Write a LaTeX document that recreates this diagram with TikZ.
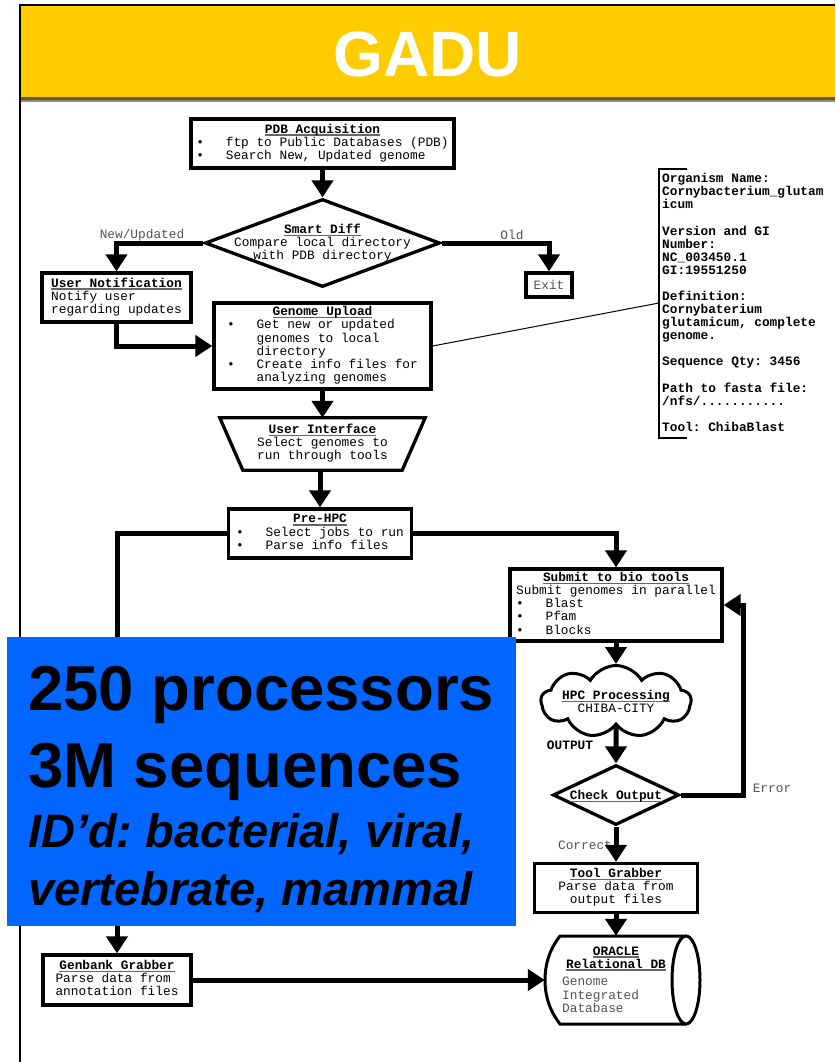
\documentclass[tikz,border=0pt]{standalone}
\usepackage{fontspec}
\newfontfamily\cour{Liberation Mono}
\newfontfamily\ari{Liberation Sans}
\usetikzlibrary{arrows.meta,shapes.geometric,shapes.symbols}
\definecolor{hdyellow}{HTML}{FFCC00}
\definecolor{slideblue}{HTML}{0066FF}
\definecolor{bodytxt}{gray}{0.32}
\definecolor{bandcol}{HTML}{6E5A10}
\newcommand\dtext{\cour\fontsize{12.8}{13}\selectfont}
\newcommand\ttl[1]{\leavevmode\setbox0\hbox{\color{black}\bfseries #1}\rlap{\color{black!60}\rule[-2.6pt]{\wd0}{1.3pt}}\box0}
\newcommand\bul{\makebox[2.3em][l]{\textbullet}}
\newcommand\ind{\hspace*{2.3em}}
\begin{document}
\frenchspacing
\begin{tikzpicture}[x=1pt,y=-1pt,
  box/.style={draw, line width=3.3pt, fill=white, inner sep=0pt, text=bodytxt, font=\dtext},
  conn/.style={line width=5pt, -{Triangle[width=21pt,length=17pt]}},
  lbl/.style={inner sep=0pt, text=bodytxt, font=\dtext},
  big/.style={anchor=base west, inner sep=0pt, text=black}]
\useasboundingbox (0,0) rectangle (835,1062);
% header
\fill[hdyellow] (20,5) rectangle (835,97);
\fill[bandcol] (20,97) rectangle (835,100.5);
\fill[black!45] (20,100.5) rectangle (835,102.5);
\draw[line width=2pt] (20,5) -- (835,5);
\draw[line width=2pt] (20,4) -- (20,1062);
\node[anchor=base, inner sep=0pt, text=white, font=\ari\bfseries\fontsize{64}{64}\selectfont] (title) at (428,77) {GADU};

% nodes
\node[box, minimum width=263pt, minimum height=49pt] (pdb) at (322.5,143.5)
  {\begin{tabular}{@{}l@{}}\multicolumn{1}{@{}c@{}}{\ttl{PDB Acquisition}}\\\bul ftp to Public Databases (PDB)\\\bul Search New, Updated genome\end{tabular}};
\node[draw, diamond, line width=3.3pt, fill=white, minimum width=235pt, minimum height=88pt, inner sep=0pt] (sd) at (322.5,243) {};
\node[lbl] (sdt) at (322.5,244)
  {\begin{tabular}{@{}c@{}}\ttl{Smart Diff}\\Compare local directory\\with PDB directory\end{tabular}};
\node[box, minimum width=46pt, minimum height=24pt] (exit) at (549,285) {Exit};
\node[box, minimum width=149pt, minimum height=49pt] (un) at (116.5,297.5)
  {\begin{tabular}{@{}l@{}}\ttl{User Notification}\\Notify user\\regarding updates\end{tabular}};
\node[box, minimum width=217pt, minimum height=86pt] (gu) at (322.5,346)
  {\begin{tabular}{@{}l@{}}\multicolumn{1}{@{}c@{}}{\ttl{Genome Upload}}\\\bul Get new or updated\\\ind genomes to local\\\ind directory\\\bul Create info files for\\\ind analyzing genomes\end{tabular}};
\node[lbl, minimum width=205pt, minimum height=52pt] (ui) at (322.5,444)
  {\begin{tabular}{@{}c@{}}\ttl{User Interface}\\Select genomes to\\run through tools\end{tabular}};
\draw[line width=3.3pt, line join=miter] (ui.north west) -- (ui.north east) -- ([xshift=-23pt]ui.south east) -- ([xshift=23pt]ui.south west) -- cycle;
\node[box, minimum width=183pt, minimum height=49pt] (pre) at (320,533.5)
  {\begin{tabular}{@{}l@{}}\multicolumn{1}{@{}c@{}}{\ttl{Pre-HPC}}\\\bul Select jobs to run\\\bul Parse info files\end{tabular}};
\node[box, minimum width=212pt, minimum height=72pt] (sub) at (616,605)
  {\begin{tabular}{@{}l@{}}\multicolumn{1}{@{}c@{}}{\ttl{Submit to bio tools}}\\Submit genomes in parallel\\\bul Blast\\\bul Pfam\\\bul Blocks\end{tabular}};
\node[draw, cloud, cloud puffs=9, cloud puff arc=120, aspect=2.1, line width=3pt, fill=white, minimum width=150pt, minimum height=72pt, inner sep=0pt] (cl) at (616,701.5) {};
\node[lbl] (clt) at (616,703.5)
  {\begin{tabular}{@{}c@{}}\ttl{HPC Processing}\\CHIBA-CITY\end{tabular}};
\node[lbl, text=black, font=\dtext\bfseries] (outl) at (570,745) {OUTPUT};
\node[draw, diamond, line width=3.3pt, fill=white, minimum width=126pt, minimum height=60pt, inner sep=0pt] (co) at (616,795) {};
\node[lbl] (cot) at (616,796) {\ttl{Check Output}};
\node[box, minimum width=163pt, minimum height=49pt] (tg) at (616,888)
  {\begin{tabular}{@{}c@{}}\ttl{Tool Grabber}\\Parse data from\\output files\end{tabular}};
% oracle
\node[inner sep=0pt, minimum width=142pt, minimum height=88pt] (ora) at (616,980) {};
\draw[line width=3pt, fill=white] (686,936) -- (560,936) .. controls (549,950) and (545,965) .. (545,980) .. controls (545,995) and (549,1010) .. (560,1024) -- (686,1024);
\draw[line width=3pt, fill=white] (686,980) ellipse [x radius=14, y radius=44];
\node[lbl] (orat) at (616,959)
  {\begin{tabular}{@{}c@{}}\ttl{ORACLE}\\\ttl{Relational DB}\end{tabular}};
\node[lbl, anchor=west] (orab) at (562,996.5)
  {\begin{tabular}{@{}l@{}}Genome\\Integrated\\Database\end{tabular}};
\node[box, minimum width=148pt, minimum height=50pt] (gb) at (117,980)
  {\begin{tabular}{@{}l@{}}\multicolumn{1}{@{}c@{}}{\ttl{Genbank Grabber}}\\Parse data from\\annotation files\end{tabular}};
% info panel
\draw[line width=1.5pt] (687,169) -- (659,169) -- (659,438) -- (687,438);
\coordinate (infol) at (659,303);
\node[anchor=north west, inner sep=0pt, text=black, font=\dtext\bfseries] (info) at (662,173)
  {\begin{tabular}{@{}l@{}}Organism Name:\\Cornybacterium\_glutam\\icum\\ \\Version and GI\\Number:\\NC\_003450.1\\GI:19551250\\ \\Definition:\\Cornybaterium\\glutamicum, complete\\genome.\\ \\Sequence Qty: 3456\\ \\Path to fasta file:\\/nfs/...........\\ \\Tool: ChibaBlast\end{tabular}};

% labels
\node[lbl] (lnew) at (142,235) {New/Updated};
\node[lbl] (lold) at (512,235) {Old};
\node[lbl] (lerr) at (772,788) {Error};
\node[lbl] (lcor) at (585,845) {Correct};

% connectors
\coordinate (errturn) at (743,605);
\draw[conn] (pdb.south) -- (sd.north);
\draw[conn] (sd.west) -| (un.north);
\draw[conn] (sd.east) -| (exit.north);
\draw[conn] (un.south) |- (gu.west);
\draw[conn] (gu.south) -- (ui.north);
\draw[conn] (ui.south -| pre.north) -- (pre.north);
\draw[conn] (pre.west) -| (gb.north);
\draw[conn] (pre.east) -| (sub.north);
\draw[conn] (sub.south) -- (cl.north);
\draw[conn] (cl.south) -- (co.north);
\draw[conn] (co.east) -| (errturn) -- (sub.east);
\draw[conn] (co.south) -- (tg.north);
\draw[conn] (tg.south) -- (ora.north);
\draw[conn] (gb.east) -- (ora.west);
\draw[line width=1pt] (gu.east) -- (infol);

% blue overlay
\fill[slideblue] (7,637) rectangle (516,926);
\node[big, font=\ari\bfseries\fontsize{63.5}{64}\selectfont] (b1) at (28,710) {250 processors};
\node[big, font=\ari\bfseries\fontsize{63.5}{64}\selectfont] (b2) at (28,787) {3M sequences};
\node[big, font=\ari\bfseries\itshape\fontsize{47}{48}\selectfont] (b3) at (28,847) {ID’d: bacterial, viral,};
\node[big, font=\ari\bfseries\itshape\fontsize{47}{48}\selectfont] (b4) at (28,905) {vertebrate, mammal};
\end{tikzpicture}
\end{document}
